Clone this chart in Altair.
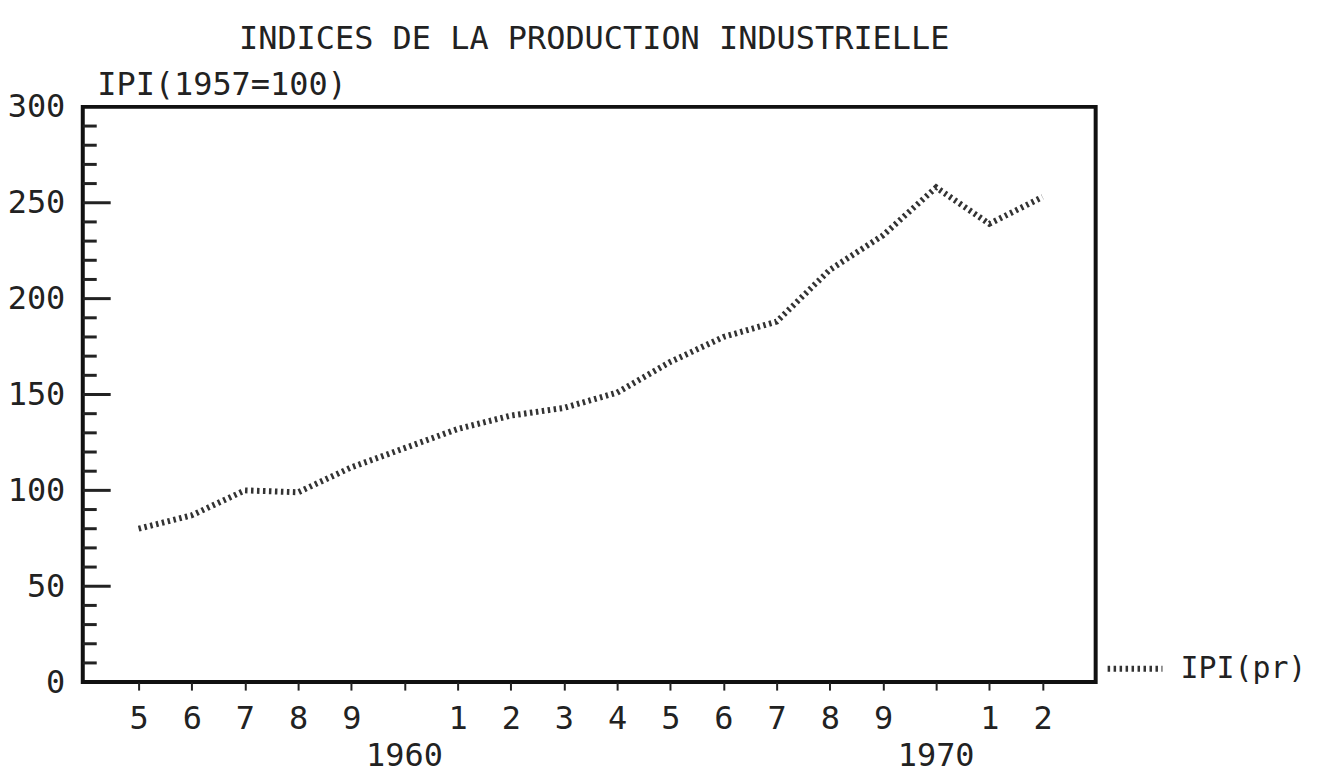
import altair as alt
import pandas as pd

# ---- data ----
years = [1955, 1956, 1957, 1958, 1959, 1960, 1961, 1962, 1963,
         1964, 1965, 1966, 1967, 1968, 1969, 1970, 1971, 1972]
ipi = [80, 87, 100, 99, 112, 122, 132, 139, 143,
       151, 167, 180, 188, 215, 233, 258, 239, 253]
series_name = "IPI(pr)"
year_ticks = list(range(1955, 1973))
decade_labels = [1960, 1970]
y_label_values = [0, 50, 100, 150, 200, 250, 300]
major_y = [50, 100, 150, 200, 250]
minor_y = [10, 20, 30, 40, 60, 70, 80, 90, 110, 120, 130, 140, 160, 170, 180,
           190, 210, 220, 230, 240, 260, 270, 280, 290]

W, H = 1016, 577
FONT = "DejaVu Sans Mono"
INK = "#222222"

df = pd.DataFrame({"year": years, "ipi": ipi, "serie": [series_name] * len(years)})
df_dec = pd.DataFrame({"year": decade_labels, "label": [str(v) for v in decade_labels]})
df_major = pd.DataFrame({"ipi": major_y})
df_minor = pd.DataFrame({"ipi": minor_y})

x_scale = alt.Scale(domain=[1953.95, 1973.0], nice=False, zero=False)
y_scale = alt.Scale(domain=[0, 300], nice=False)

x_axis = alt.Axis(values=year_ticks, title=None, grid=False, domain=False,
                  labelExpr="datum.value % 10 == 0 ? '' : '' + (datum.value % 10)",
                  tickSize=8, tickWidth=2, tickColor=INK, labelFlush=False,
                  labelFont=FONT, labelFontSize=32, labelColor=INK, labelPadding=14)
y_axis = alt.Axis(values=y_label_values, title="IPI(1957=100)", titleAngle=0,
                  titleX=14, titleY=-12, titleAlign="left", titleBaseline="alphabetic",
                  titleFont=FONT, titleFontSize=32, titleFontWeight="normal", titleColor=INK,
                  labelFont=FONT, labelFontSize=32, labelColor=INK, labelPadding=18,
                  tickSize=0, domain=False, grid=False)

x_enc = alt.X("year:Q", scale=x_scale, axis=x_axis)
y_enc = alt.Y("ipi:Q", scale=y_scale, axis=y_axis)

line = alt.Chart(df).mark_line(strokeWidth=6, strokeDash=[2.5, 3.5], strokeCap="butt").encode(
    x=x_enc,
    y=y_enc,
    color=alt.Color("serie:N", scale=alt.Scale(range=["#333333"]),
                    legend=alt.Legend(title=None, orient="none", legendX=1025, legendY=533,
                                      symbolType="stroke", symbolDash=[2.5, 3.5],
                                      symbolStrokeWidth=6, symbolSize=3025,
                                      labelFont=FONT, labelFontSize=30, labelColor=INK,
                                      labelOffset=15, padding=0)),
)

major_ticks = alt.Chart(df_major).mark_rule(color=INK, strokeWidth=3).encode(
    y=y_enc, x=alt.value(0), x2=alt.value(28))
minor_ticks = alt.Chart(df_minor).mark_rule(color=INK, strokeWidth=3).encode(
    y=y_enc, x=alt.value(0), x2=alt.value(14))

decades = alt.Chart(df_dec).mark_text(font=FONT, fontSize=32, color=INK, baseline="middle").encode(
    x=x_enc, y=alt.value(H + 74), text="label:N")

chart = alt.layer(minor_ticks, major_ticks, line, decades).properties(
    width=W, height=H,
    title=alt.TitleParams("INDICES DE LA PRODUCTION INDUSTRIELLE", font=FONT, fontSize=32,
                          fontWeight="normal", color=INK, anchor="middle", frame="group",
                          baseline="alphabetic", offset=16, dx=5, dy=28),
    autosize=alt.AutoSizeParams(type="none"),
    padding={"left": 75, "top": 98, "right": 215, "bottom": 95},
    background="white",
).configure_view(stroke="#111111", strokeWidth=4)

chart.save("out.html", embed_options={"renderer": "svg", "actions": False})
